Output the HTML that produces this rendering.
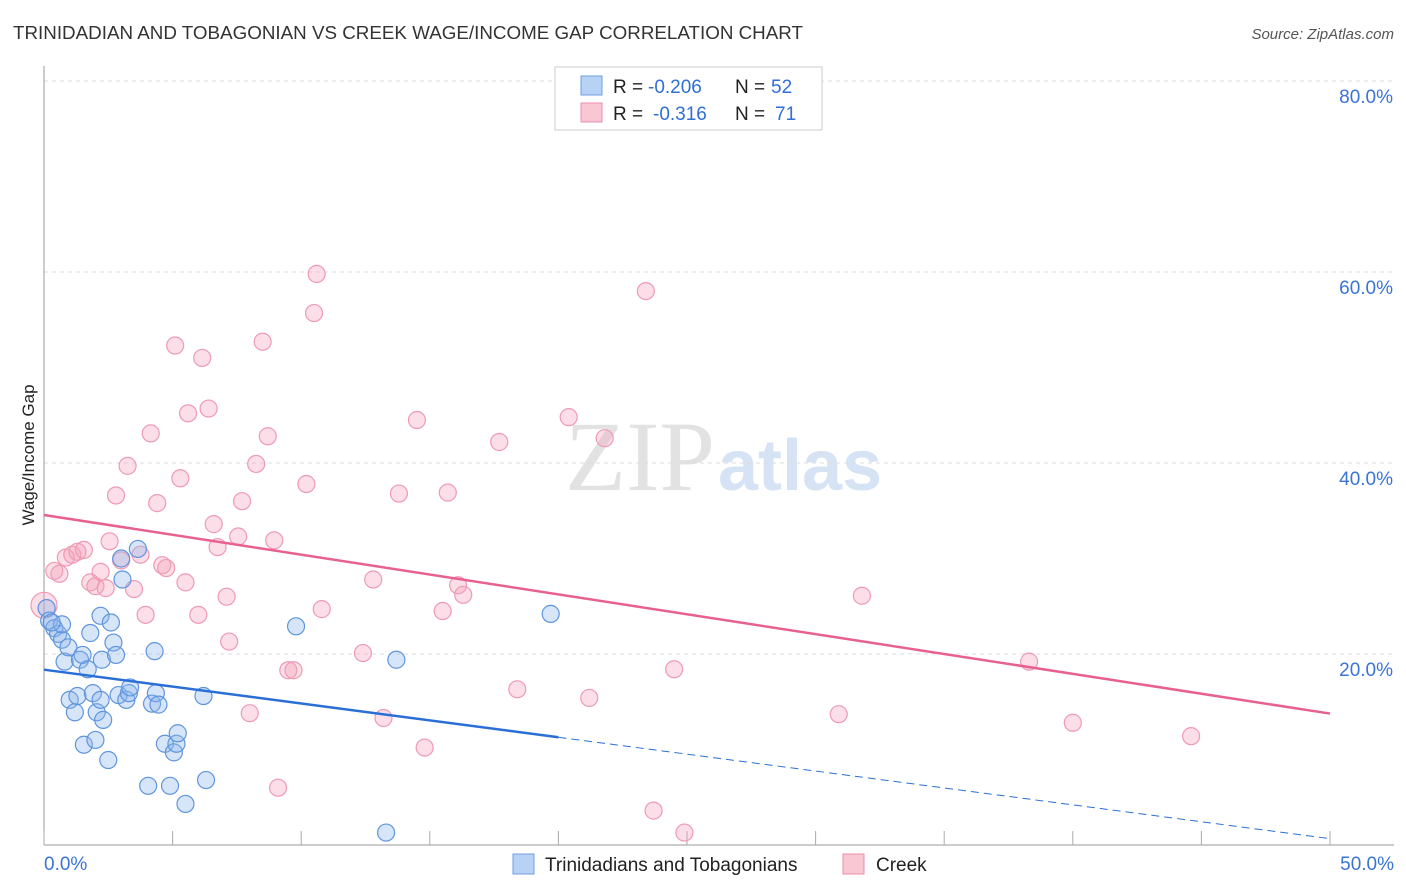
<!DOCTYPE html>
<html><head><meta charset="utf-8"><style>
body{margin:0;background:#fff;font-family:"Liberation Sans",sans-serif;}
svg{display:block}
</style></head><body>
<svg id="c" width="1406" height="892">
<text x="13" y="39" font-size="18" fill="#333" textLength="790" lengthAdjust="spacingAndGlyphs">TRINIDADIAN AND TOBAGONIAN VS CREEK WAGE/INCOME GAP CORRELATION CHART</text>
<text x="1394" y="39" font-size="15" fill="#555" font-style="italic" text-anchor="end">Source: ZipAtlas.com</text>
<text x="715" y="490" font-size="100" fill="#e2e2e2" text-anchor="end" font-family="Liberation Serif,serif">ZIP</text>
<text x="718" y="490" font-size="72" fill="#d6e3f5" font-weight="bold">atlas</text>
<g id="grid"></g><g id="axes"></g><g id="marks"></g>
<text transform="translate(34,455) rotate(-90)" font-size="17" fill="#222" text-anchor="middle">Wage/Income Gap</text>
<g>
<rect x="555" y="67" width="267" height="63" fill="#fff" stroke="#ccc"/>
<rect x="581" y="76" width="21" height="19" fill="#b8d2f5" stroke="#6e9ee0"/>
<rect x="581" y="103" width="21" height="19" fill="#f9c6d4" stroke="#eb8fab"/>
<text x="613" y="93" font-size="19" fill="#222">R =</text>
<text x="648" y="93" font-size="19" fill="#2f6fd6">-0.206</text>
<text x="735" y="93" font-size="19" fill="#222">N =</text>
<text x="771" y="93" font-size="19" fill="#2f6fd6">52</text>
<text x="613" y="120" font-size="19" fill="#222">R =</text>
<text x="653" y="120" font-size="19" fill="#2f6fd6">-0.316</text>
<text x="735" y="120" font-size="19" fill="#222">N =</text>
<text x="775" y="120" font-size="19" fill="#2f6fd6">71</text>
</g>
<g>
<rect x="513" y="854" width="21" height="20" fill="#b8d2f5" stroke="#6e9ee0"/>
<text x="545" y="871" font-size="19" fill="#222">Trinidadians and Tobagonians</text>
<rect x="843" y="854" width="21" height="20" fill="#f9c6d4" stroke="#eb8fab"/>
<text x="876" y="871" font-size="19" fill="#222">Creek</text>
</g>
</svg>
<script>
const xTicks=[0,5,10,15,20,25,30,35,40,45,50];
const yTicks=[20,40,60,80];
const blueX=[0.1,0.2,0.4,0.55,0.7,0.8,0.95,1.0,1.2,1.3,1.4,1.5,1.55,1.7,1.8,1.9,2.0,2.05,2.2,2.25,2.3,2.5,2.6,2.7,2.8,2.9,3.0,3.05,3.2,3.3,3.35,3.65,4.05,4.2,4.3,4.35,4.45,4.7,4.9,5.05,5.15,5.2,5.5,6.2,6.3,9.8,13.3,13.7,19.7,0.7,0.3,2.2];
const blueY=[24.8,23.5,22.7,22.1,21.5,19.2,20.7,15.2,13.9,15.6,19.4,19.9,10.5,18.4,22.2,15.9,11.0,13.9,24.0,19.4,13.1,8.9,23.3,21.2,19.9,15.7,30.0,27.8,15.2,15.9,16.5,31.0,6.2,14.8,20.3,15.9,14.7,10.6,6.2,9.7,10.6,11.7,4.3,15.6,6.8,22.9,1.3,19.4,24.2,23.1,23.3,15.2];
const pinkX=[0.0,0.4,0.6,0.85,1.1,1.3,1.55,1.8,2.0,2.2,2.4,2.55,2.8,3.0,3.25,3.5,3.75,3.95,4.15,4.4,4.6,4.75,5.1,5.3,5.5,5.6,6.0,6.15,6.4,6.6,6.75,7.1,7.2,7.55,7.7,8.0,8.25,8.5,8.7,8.95,9.1,9.5,9.7,10.2,10.5,10.6,10.8,12.4,12.8,13.2,13.8,14.5,14.8,15.5,15.7,16.1,16.3,17.7,18.4,20.4,21.2,21.8,23.4,23.7,24.5,24.9,30.9,31.8,38.3,40.0,44.6];
const pinkY=[25.1,28.7,28.4,30.1,30.4,30.7,30.9,27.5,27.1,28.6,26.9,31.8,36.6,29.8,39.7,26.8,30.4,24.1,43.1,35.8,29.3,29.0,52.3,38.4,27.5,45.2,24.1,51.0,45.7,33.6,31.2,26.0,21.3,32.3,36.0,13.8,39.9,52.7,42.8,31.9,6.0,18.3,18.3,37.8,55.7,59.8,24.7,20.1,27.8,13.3,36.8,44.5,10.2,24.5,36.9,27.2,26.2,42.2,16.3,44.8,15.4,42.6,58.0,3.6,18.4,1.3,13.7,26.1,19.2,12.8,11.4];
const NS='http://www.w3.org/2000/svg';
const X0=44,X1=1330,Y0=845,Y80=81;
const sx=v=>X0+(X1-X0)*v/50, sy=v=>Y0-(Y0-Y80)*v/80;
function mk(tag,at,parent){const e=document.createElementNS(NS,tag);for(const k in at)e.setAttribute(k,at[k]);document.getElementById(parent).appendChild(e);return e;}
yTicks.forEach(t=>{
 const l=mk('line',{x1:X0,x2:1394,y1:sy(t),y2:sy(t),stroke:'#ddd','stroke-dasharray':'4,4'},'grid');
 
 
 const tx=mk('text',{x:1393,y:sy(t)+22,'font-size':19,fill:'#3a74d6','text-anchor':'end'},'axes');tx.textContent=t.toFixed(1)+'%';
 
 
});
const ax=mk('line',{x1:X0,x2:X0,y1:66,y2:Y0,stroke:'#999'},'axes');


const bx=mk('line',{x1:X0,x2:1394,y1:Y0,y2:Y0,stroke:'#999'},'axes');


xTicks.forEach(t=>{
 const l=mk('line',{x1:sx(t),x2:sx(t),y1:Y0,y2:Y0-14,stroke:'#aaa'},'axes');
 
 
});
[[0,'0.0%',44,'start'],[50,'50.0%',1394,'end']].forEach(a=>{
 const tx=mk('text',{x:a[2],y:870,'font-size':19,fill:'#3a74d6','text-anchor':a[3]},'axes');tx.textContent=a[1];
 
 
});
pinkX.forEach((v,i)=>{
 const c=mk('circle',{cx:sx(v),cy:sy(pinkY[i]),r:i==0?13:8.5,fill:'rgba(244,160,185,0.35)',stroke:'#ef9ab4','stroke-width':1.2},'marks');
 
 
});
blueX.forEach((v,i)=>{
 const c=mk('circle',{cx:sx(v),cy:sy(blueY[i]),r:8.5,fill:'rgba(140,180,235,0.35)',stroke:'#5f95de','stroke-width':1.2},'marks');
 
 
});
function fit(xs,ys){const n=xs.length,mx=xs.reduce((a,b)=>a+b)/n,my=ys.reduce((a,b)=>a+b)/n;let sxy=0,sxx=0;xs.forEach((x,i)=>{sxy+=(x-mx)*(ys[i]-my);sxx+=(x-mx)**2});const b=sxy/sxx;return [my-b*mx,b];}
const pf=fit(pinkX,pinkY),bf=fit(blueX,blueY);
const pl=mk('line',{x1:sx(0),y1:sy(pf[0]),x2:sx(50),y2:sy(pf[0]+pf[1]*50),stroke:'#e8608f','stroke-width':2.5},'marks');


const bl=mk('line',{x1:sx(0),y1:sy(bf[0]),x2:sx(20),y2:sy(bf[0]+bf[1]*20),stroke:'#2a6fd6','stroke-width':2.5},'marks');


const bd=mk('line',{x1:sx(20),y1:sy(bf[0]+bf[1]*20),x2:sx(50),y2:sy(bf[0]+bf[1]*50),stroke:'#2a6fd6','stroke-width':1,'stroke-dasharray':'8,5'},'marks');


</script>
</body></html>
